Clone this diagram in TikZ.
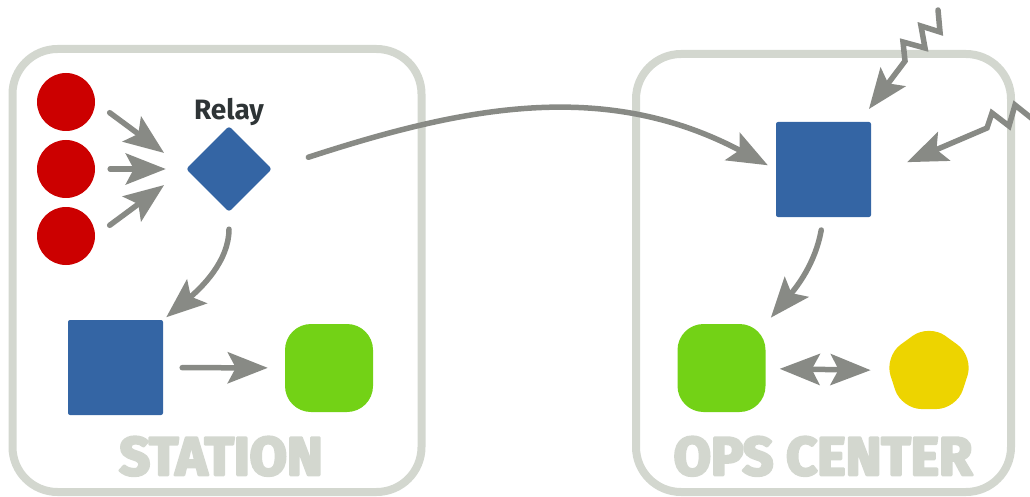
\documentclass[tikz,border=0pt]{standalone}
\usepackage{fontspec}
\setmainfont{Fira Sans}
\usetikzlibrary{shapes.geometric,arrows.meta,positioning}

\definecolor{frame}{HTML}{D3D7CF}
\definecolor{wire}{HTML}{888A85}
\definecolor{scarlet}{HTML}{CC0000}
\definecolor{sky}{HTML}{3465A4}
\definecolor{leaf}{HTML}{73D216}
\definecolor{butter}{HTML}{EDD400}
\definecolor{ink}{HTML}{2E3436}

% outlined glyphs for the heavy room names
\newcommand{\heavytext}[1]{\special{pdf:literal direct 2 Tr 2.6 w 1 j}#1\special{pdf:literal direct 0 Tr}}

\begin{document}
\begin{tikzpicture}[x=1pt, y=1pt]
	\tikzset{
		panel/.style={draw=frame, line width=8pt, rounded corners=45pt, inner sep=0pt},
		roomname/.style={text=frame, font=\fontsize{54}{54}\selectfont\bfseries, inner sep=0pt},
		tag/.style={text=ink, font=\fontsize{28}{28}\selectfont\bfseries, inner sep=0pt},
		dot/.style={circle, fill=scarlet, minimum size=58pt, inner sep=0pt},
		relay/.style={diamond, fill=sky, minimum width=86pt, minimum height=86pt, inner sep=0pt, rounded corners=3pt},
		block/.style={rectangle, fill=sky, minimum size=95pt, inner sep=0pt, rounded corners=2pt},
		soft/.style={rectangle, fill=leaf, minimum size=88pt, inner sep=0pt, rounded corners=26pt},
		blob/.style={regular polygon, regular polygon sides=5, fill=butter, minimum size=94pt, inner sep=0pt, rounded corners=20pt},
		link/.style={draw=wire, line width=5.5pt, line cap=round, -{Stealth[length=40pt, width=31pt, inset=8pt]}},
		twoway/.style={{Stealth[length=40pt, width=31pt, inset=8pt]}-{Stealth[length=40pt, width=31pt, inset=8pt]}}
	}

	\useasboundingbox (0,0) rectangle (1030,-497);

	% rooms
	\node [panel, minimum width=409pt, minimum height=443pt] (station) at (217,-270.5) {};
	\node [panel, minimum width=375pt, minimum height=438pt] (ops) at (823.5,-273) {};
	\node [roomname, anchor=base] at (221,-475) {\heavytext{STATION}};
	\node [roomname, anchor=base] at (823,-475) {\heavytext{OPS CENTER}};

	% station side
	\node [dot] (src1) at (66,-102) {};
	\node [dot] (src2) at (66,-169) {};
	\node [dot] (src3) at (66,-236) {};
	\node [relay] (relay) at (229,-169) {};
	\node [tag, above=0pt of relay] {Relay};
	\node [block] (store) at (115.5,-367.5) {};
	\node [soft] (sink) at (329,-368) {};

	% ops side
	\node [block] (hub) at (823.5,-169.5) {};
	\node [soft] (desk) at (721.5,-368) {};
	\node [blob] (alarm) at (929,-371) {};

	\coordinate (zapA) at (938,-10);
	\coordinate (zapB) at (1040,-125);

	\draw [link, shorten <=18pt, shorten >=27pt] (src1.east) -- (relay.west);
	\draw [link, shorten <=15pt, shorten >=20pt] (src2.east) -- (relay.west);
	\draw [link, shorten <=18pt, shorten >=27pt] (src3.east) -- (relay.west);
	\draw [link, shorten <=17pt, shorten >=4pt] (relay.south) to [out=-90, in=40] (store.north east);
	\draw [link, shorten <=19pt, shorten >=17pt] (store) -- (sink);

	\draw [link, shorten <=38pt, shorten >=9pt] (relay.east) to [out=18, in=152] (hub.west);
	\draw [link, shorten <=13pt, shorten >=8pt] (hub.south) to [out=-100, in=50] (desk.north east);
	\draw [link, twoway, shorten <=14pt, shorten >=18pt] (desk) -- (alarm);

	% incoming alerts
	\draw [link, shorten >=16pt] (zapA) -- ++(2,-22) -- ++(-19,6) -- ++(4,-22) -- ++(-22,6) -- ++(2,-19) -- (hub);
	\draw [link, shorten >=39pt] (zapB) -- ++(-25,20) -- ++(-6,-21) -- ++(-17,13) -- ++(-5,-15) -- ([yshift=-8pt]hub.east);
\end{tikzpicture}
\end{document}
